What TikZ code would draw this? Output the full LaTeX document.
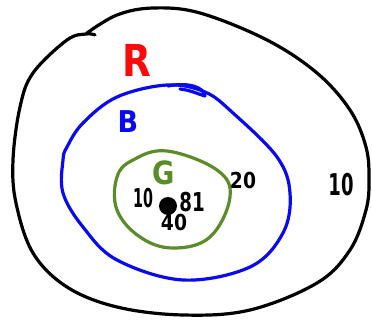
\documentclass[tikz,border=0pt]{standalone}
\usepackage{fontspec}
\setmainfont{DejaVu Sans}
\definecolor{penred}{RGB}{250,10,10}
\definecolor{penblue}{RGB}{10,10,240}
\definecolor{pengreen}{RGB}{90,140,40}
\tikzset{
  pen/.style={line width=3.2pt, line cap=round, line join=round},
  lbl/.style={inner sep=0pt},
  fs/.style={font=\fontsize{#1}{#1}\selectfont\bfseries}
}
\begin{document}
\begin{tikzpicture}[x=1pt,y=-1pt]
\useasboundingbox (0,0) rectangle (372,320);
% outer black
\draw[pen, black] plot[smooth, tension=0.6] coordinates {
 (87,33) (117,15) (153,8) (200,13) (267,40) (317,73) (350,110) (366,147)
 (369,180) (366,210) (350,250) (317,283) (250,310) (183,315) (117,307)
 (67,287) (33,253) (16,203) (13,160) (20,107) (33,73) (67,40) (86,34) (95,35) };
% blue
\draw[pen, penblue] plot[smooth cycle, tension=0.6] coordinates {
 (167,85) (205,92) (233,113) (277,157) (290,193) (283,233) (250,267)
 (183,280) (117,260) (83,227) (63,193) (63,160) (67,147) (83,123) (117,97) };
\draw[pen, penblue] (168,86) .. controls (188,82) and (204,87) .. (205,96) .. controls (198,94) and (190,90) .. (180,89);
% green
\draw[pen, pengreen] plot[smooth cycle, tension=0.65] coordinates {
 (167,151) (217,170) (230,197) (210,237) (173,248) (140,237) (117,210) (117,177) (133,160) };
% labels
\node[lbl, penred, fs=44, xscale=0.85] (R) at (137,60) {R};
\node[lbl, penblue, fs=30, xscale=0.9] (B) at (128,122) {B};
\node[lbl, pengreen, fs=32, xscale=0.85] (G) at (164,173) {G};
\node[lbl, fs=26, xscale=0.55] (n10a) at (143,198) {10};
\node[lbl, fs=26, xscale=0.7] (n81) at (192,202) {81};
\node[lbl, fs=22, xscale=0.85] (n40) at (174,222) {40};
\fill[black] (168,206) circle (9pt);
\node[lbl, fs=22, xscale=0.85] (n20) at (243,180) {20};
\node[lbl, fs=30, xscale=0.6] (n10b) at (341,185) {10};
\end{tikzpicture}
\end{document}
